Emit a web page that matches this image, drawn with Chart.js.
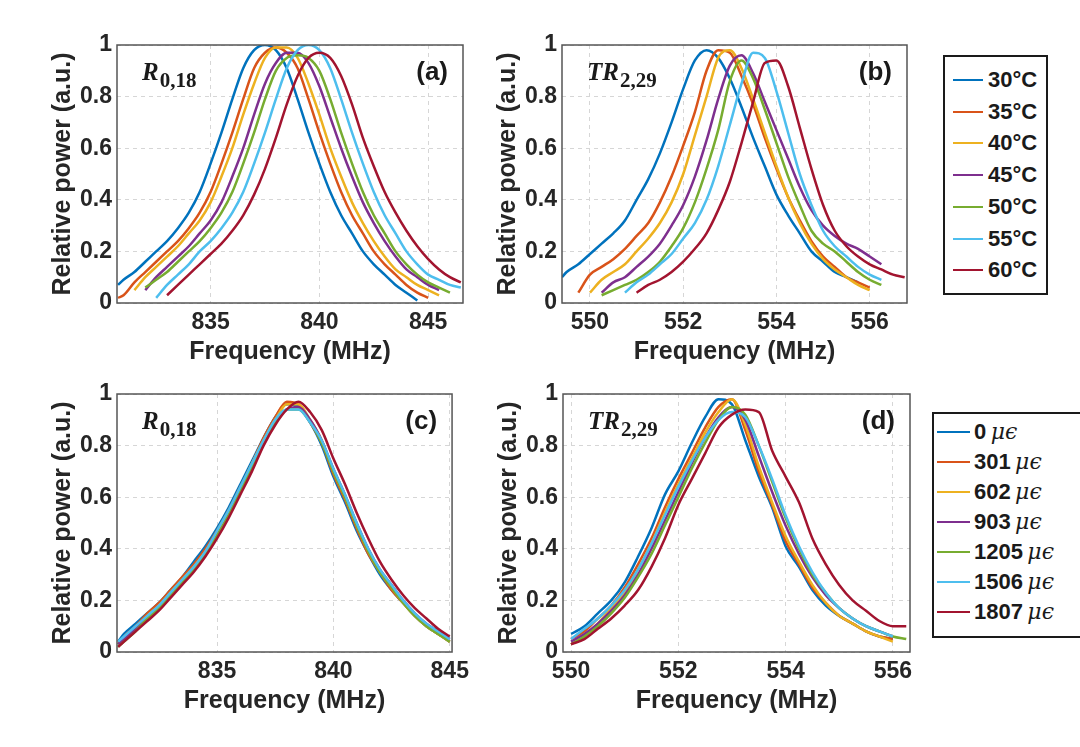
<!DOCTYPE html>
<html>
<head>
<meta charset="utf-8">
<script src="https://cdn.jsdelivr.net/npm/chart.js@4.4.1/dist/chart.umd.min.js"></script>
<style>
body { margin: 0; background: #fff; }
#page { position: relative; width: 1080px; height: 747px; overflow: hidden; background: #fff; }
canvas { position: absolute; }
.legend { position: absolute; border: 2px solid #1a1a1a; background: #fff; box-sizing: border-box; }
.row { position: absolute; height: 26px; line-height: 26px; white-space: nowrap;
       font: bold 22px 'Liberation Sans', Arial, sans-serif; color: #1a1a1a; }
.swatch { position: absolute; height: 2px; }
.mu { font: italic 22px 'DejaVu Serif', serif; }
</style>
</head>
<body>
<div id="page">
  <canvas id="pa" width="445" height="350" style="left:30px;top:25px"></canvas>
  <canvas id="pb" width="444" height="350" style="left:475px;top:25px"></canvas>
  <canvas id="pc" width="445" height="350" style="left:30px;top:374px"></canvas>
  <canvas id="pd" width="444" height="350" style="left:476px;top:374px"></canvas>
  <div id="legTemp" class="legend" style="left:943px;top:55px;width:105px;height:240px"></div>
  <div id="legStrain" class="legend" style="left:932px;top:412px;width:150px;height:226px"></div>
</div>
<script>
// labels
const tempLabels = ['30°C', '35°C', '40°C', '45°C', '50°C', '55°C', '60°C'];
const strainLabels = ['0', '301', '602', '903', '1205', '1506', '1807'];

// (a) temperature, R0,18
const freqA = [830.75, 831, 831.5, 832, 832.5, 833, 833.5, 834, 834.5, 835, 835.5, 836, 836.5, 837, 837.5, 838,
               838.5, 839, 839.5, 840, 840.5, 841, 841.5, 842, 842.5, 843, 843.5, 844, 844.5, 845, 845.5, 846, 846.5];
const a30 = [0.07, 0.09, 0.12, 0.16, 0.2, 0.24, 0.29, 0.35, 0.43, 0.54, 0.66, 0.79, 0.91, 0.98, 1.0, 0.98, 0.91,
             0.79, 0.66, 0.54, 0.43, 0.34, 0.27, 0.2, 0.15, 0.11, 0.07, 0.04, 0.01, null, null, null, null];
const a35 = [0.02, 0.03, 0.08, 0.12, 0.16, 0.2, 0.24, 0.29, 0.35, 0.43, 0.54, 0.66, 0.79, 0.91, 0.97, 0.99, 0.97,
             0.91, 0.79, 0.66, 0.54, 0.43, 0.34, 0.27, 0.2, 0.15, 0.11, 0.07, 0.04, 0.02, null, null, null];
const a40 = [null, null, 0.05, 0.1, 0.14, 0.18, 0.22, 0.27, 0.32, 0.39, 0.49, 0.6, 0.73, 0.85, 0.95, 0.99, 0.99,
             0.95, 0.85, 0.73, 0.6, 0.49, 0.39, 0.31, 0.24, 0.18, 0.13, 0.1, 0.07, 0.05, 0.03, null, null];
const a45 = [null, null, null, 0.05, 0.1, 0.14, 0.18, 0.22, 0.27, 0.32, 0.39, 0.49, 0.6, 0.73, 0.85, 0.93, 0.97,
             0.97, 0.93, 0.84, 0.72, 0.6, 0.49, 0.39, 0.31, 0.24, 0.18, 0.13, 0.1, 0.07, 0.05, null, null];
const a50 = [null, null, null, 0.06, 0.09, 0.12, 0.16, 0.2, 0.24, 0.29, 0.35, 0.43, 0.54, 0.66, 0.79, 0.9, 0.95,
             0.96, 0.95, 0.9, 0.79, 0.66, 0.54, 0.43, 0.34, 0.27, 0.2, 0.15, 0.11, 0.08, 0.06, 0.04, null];
const a55 = [null, null, null, null, 0.02, 0.07, 0.11, 0.15, 0.2, 0.24, 0.29, 0.35, 0.43, 0.54, 0.66, 0.79, 0.91,
             0.98, 1.0, 0.98, 0.91, 0.79, 0.66, 0.54, 0.43, 0.34, 0.27, 0.2, 0.15, 0.11, 0.09, 0.07, 0.06];
const a60 = [null, null, null, null, null, 0.03, 0.07, 0.11, 0.15, 0.19, 0.23, 0.28, 0.34, 0.42, 0.52, 0.64, 0.77,
             0.88, 0.95, 0.97, 0.95, 0.88, 0.77, 0.64, 0.53, 0.43, 0.35, 0.28, 0.22, 0.17, 0.13, 0.1, 0.08];

// (b) temperature, TR2,29
const freqB = [549.4, 549.5, 549.75, 550, 550.25, 550.5, 550.75, 551, 551.25, 551.5, 551.75, 552, 552.25, 552.5,
               552.75, 553, 553.25, 553.5, 553.75, 554, 554.25, 554.5, 554.75, 555, 555.25, 555.5, 555.75, 556,
               556.25, 556.5, 556.75];
const b30 = [0.1, 0.12, 0.15, 0.19, 0.23, 0.27, 0.32, 0.4, 0.48, 0.58, 0.7, 0.83, 0.94, 0.98, 0.95, 0.87, 0.76,
             0.64, 0.53, 0.42, 0.34, 0.27, 0.2, 0.16, 0.12, 0.1, 0.08, null, null, null, null];
const b35 = [null, null, 0.04, 0.11, 0.14, 0.17, 0.21, 0.26, 0.31, 0.39, 0.49, 0.61, 0.74, 0.9, 0.98, 0.97, 0.88,
             0.77, 0.64, 0.52, 0.41, 0.32, 0.24, 0.18, 0.14, 0.1, 0.08, 0.06, null, null, null];
const b40 = [null, null, null, 0.04, 0.09, 0.12, 0.15, 0.2, 0.25, 0.31, 0.39, 0.5, 0.65, 0.8, 0.95, 0.98, 0.91,
             0.79, 0.66, 0.53, 0.41, 0.31, 0.23, 0.17, 0.13, 0.1, 0.07, 0.05, null, null, null];
const b45 = [null, null, null, null, 0.04, 0.08, 0.1, 0.14, 0.18, 0.23, 0.3, 0.38, 0.49, 0.63, 0.79, 0.92, 0.96,
             0.89, 0.78, 0.67, 0.56, 0.45, 0.36, 0.3, 0.26, 0.23, 0.21, 0.18, 0.15, null, null];
const b50 = [null, null, null, null, 0.03, 0.05, 0.07, 0.09, 0.12, 0.16, 0.22, 0.29, 0.39, 0.52, 0.67, 0.86, 0.94,
             0.87, 0.75, 0.62, 0.49, 0.38, 0.28, 0.23, 0.2, 0.16, 0.12, 0.09, 0.07, null, null];
const b55 = [null, null, null, null, null, null, 0.04, 0.08, 0.11, 0.15, 0.19, 0.25, 0.31, 0.4, 0.53, 0.69, 0.85,
             0.97, 0.95, 0.82, 0.66, 0.5, 0.38, 0.28, 0.22, 0.18, 0.14, 0.11, 0.09, null, null];
const b60 = [null, null, null, null, null, null, null, 0.04, 0.07, 0.09, 0.12, 0.16, 0.21, 0.27, 0.36, 0.47, 0.62,
             0.78, 0.93, 0.94, 0.84, 0.68, 0.52, 0.38, 0.28, 0.22, 0.18, 0.15, 0.13, 0.11, 0.1];

// (c) strain, R0,18
const freqC = [830.75, 831, 831.5, 832, 832.5, 833, 833.5, 834, 834.5, 835, 835.5, 836, 836.5, 837, 837.5, 838,
               838.5, 839, 839.5, 840, 840.5, 841, 841.5, 842, 842.5, 843, 843.5, 844, 844.5, 845];
const c0 = [0.04, 0.07, 0.11, 0.15, 0.19, 0.24, 0.29, 0.35, 0.41, 0.48, 0.56, 0.65, 0.74, 0.83, 0.91, 0.96, 0.95,
            0.89, 0.8, 0.68, 0.58, 0.47, 0.38, 0.3, 0.24, 0.19, 0.14, 0.1, 0.07, 0.04];
const c301 = [0.03, 0.06, 0.1, 0.15, 0.19, 0.24, 0.29, 0.34, 0.4, 0.47, 0.55, 0.64, 0.73, 0.83, 0.91, 0.97, 0.96,
              0.89, 0.81, 0.69, 0.59, 0.48, 0.38, 0.31, 0.24, 0.19, 0.14, 0.1, 0.07, 0.04];
const c602 = [0.02, 0.05, 0.09, 0.14, 0.18, 0.23, 0.28, 0.33, 0.39, 0.46, 0.54, 0.63, 0.73, 0.82, 0.9, 0.96, 0.96,
              0.9, 0.82, 0.7, 0.6, 0.49, 0.39, 0.31, 0.25, 0.19, 0.14, 0.1, 0.07, 0.04];
const c903 = [0.03, 0.05, 0.09, 0.13, 0.17, 0.22, 0.27, 0.32, 0.38, 0.45, 0.53, 0.62, 0.71, 0.81, 0.89, 0.94, 0.95,
              0.9, 0.82, 0.71, 0.61, 0.5, 0.4, 0.32, 0.26, 0.2, 0.15, 0.11, 0.08, 0.05];
const c1205 = [0.02, 0.04, 0.08, 0.13, 0.17, 0.22, 0.27, 0.32, 0.38, 0.45, 0.53, 0.62, 0.72, 0.81, 0.89, 0.94, 0.94,
               0.89, 0.81, 0.7, 0.6, 0.49, 0.39, 0.31, 0.25, 0.19, 0.14, 0.1, 0.07, 0.04];
const c1506 = [0.04, 0.06, 0.1, 0.14, 0.18, 0.23, 0.28, 0.33, 0.39, 0.47, 0.55, 0.64, 0.73, 0.82, 0.9, 0.94, 0.94,
               0.89, 0.82, 0.71, 0.61, 0.5, 0.4, 0.32, 0.26, 0.2, 0.15, 0.11, 0.08, 0.05];
const c1807 = [0.02, 0.04, 0.08, 0.12, 0.16, 0.21, 0.26, 0.31, 0.37, 0.44, 0.52, 0.61, 0.7, 0.8, 0.88, 0.94, 0.97,
               0.93, 0.86, 0.75, 0.65, 0.54, 0.44, 0.35, 0.28, 0.22, 0.17, 0.13, 0.09, 0.06];

// (d) strain, TR2,29
const freqD = [550, 550.25, 550.5, 550.75, 551, 551.25, 551.5, 551.75, 552, 552.25, 552.5, 552.75, 553, 553.25,
               553.5, 553.75, 554, 554.25, 554.5, 554.75, 555, 555.25, 555.5, 555.75, 556, 556.25];
const d0 = [0.07, 0.1, 0.15, 0.2, 0.27, 0.37, 0.48, 0.61, 0.7, 0.81, 0.91, 0.98, 0.96, 0.82, 0.68, 0.56, 0.41,
            0.33, 0.24, 0.18, 0.14, 0.11, 0.08, 0.06, 0.05, null];
const d301 = [0.05, 0.08, 0.13, 0.18, 0.25, 0.34, 0.44, 0.56, 0.67, 0.77, 0.87, 0.95, 0.98, 0.86, 0.7, 0.57, 0.43,
              0.34, 0.25, 0.19, 0.14, 0.11, 0.08, 0.06, 0.05, null];
const d602 = [0.03, 0.06, 0.11, 0.17, 0.23, 0.32, 0.42, 0.54, 0.65, 0.75, 0.85, 0.93, 0.98, 0.88, 0.72, 0.58, 0.45,
              0.35, 0.26, 0.19, 0.14, 0.11, 0.08, 0.06, 0.04, null];
const d903 = [0.04, 0.07, 0.11, 0.16, 0.22, 0.3, 0.4, 0.51, 0.62, 0.73, 0.83, 0.91, 0.95, 0.9, 0.76, 0.62, 0.49,
              0.38, 0.29, 0.22, 0.17, 0.13, 0.1, 0.08, 0.06, null];
const d1205 = [0.03, 0.06, 0.1, 0.15, 0.21, 0.29, 0.38, 0.49, 0.6, 0.71, 0.81, 0.9, 0.95, 0.92, 0.8, 0.66, 0.52,
               0.4, 0.3, 0.23, 0.17, 0.13, 0.1, 0.08, 0.06, 0.05];
const d1506 = [0.05, 0.09, 0.13, 0.18, 0.24, 0.32, 0.42, 0.53, 0.64, 0.74, 0.83, 0.9, 0.93, 0.91, 0.8, 0.67, 0.53,
               0.41, 0.31, 0.23, 0.17, 0.13, 0.1, 0.08, 0.06, null];
const d1807 = [0.03, 0.05, 0.09, 0.13, 0.18, 0.24, 0.33, 0.44, 0.57, 0.67, 0.77, 0.87, 0.92, 0.94, 0.93, 0.78, 0.68,
               0.58, 0.44, 0.34, 0.26, 0.2, 0.16, 0.12, 0.1, 0.1];

const lineColors = ['#0072BD', '#D95319', '#EDB120', '#7E2F8E', '#77AC30', '#4DBEEE', '#A2142F'];
const inkColor = '#262626';
const sansFont = "'Liberation Sans', Arial, sans-serif";

Chart.defaults.font.family = sansFont;
Chart.defaults.color = inkColor;

// frame box + panel annotations
const panelText = {
    id: 'panelText',
    afterDraw(chart, args, opts) {
        const ctx = chart.ctx;
        const {left, top, right, bottom} = chart.chartArea;
        ctx.save();
        ctx.strokeStyle = '#555555';
        ctx.lineWidth = 1.5;
        ctx.strokeRect(left, top, right - left, bottom - top);
        ctx.fillStyle = '#1a1a1a';
        ctx.textAlign = 'left';
        ctx.textBaseline = 'alphabetic';
        ctx.font = "italic bold 25px 'Liberation Serif', serif";
        ctx.fillText(opts.main, left + 25, top + 35);
        const w = ctx.measureText(opts.main).width;
        ctx.font = "bold 21px 'Liberation Serif', serif";
        ctx.fillText(opts.sub, left + 26 + w, top + 42);
        ctx.font = 'bold 26px ' + sansFont;
        ctx.textAlign = 'right';
        ctx.textBaseline = 'middle';
        ctx.fillText(opts.tag, right - 15, top + 28);
        ctx.restore();
    }
};

function makeSets(freq, series, labels)
{
    return series.map((vals, i) => ({
        label: labels[i],
        data: freq.map((f, k) => ({ x: f, y: vals[k] })),
        borderColor: lineColors[i],
        backgroundColor: lineColors[i],
        borderWidth: 2.5,
        pointRadius: 0,
        cubicInterpolationMode: 'monotone',
        order: series.length - i
    }));
}

function drawPanel(id, freq, series, labels, xMin, xMax, step, padRight, text)
{
    const gridOpts = { color: '#d6d6d6', lineWidth: 1, drawTicks: false };
    const borderOpts = { display: false, dash: [4, 4] };
    const tickFont = { size: 23, weight: 'bold' };
    const titleFont = { size: 25, weight: 'bold' };
    new Chart(document.getElementById(id), {
        type: 'line',
        data: { datasets: makeSets(freq, series, labels) },
        options: {
            responsive: false,
            animation: false,
            devicePixelRatio: 1,
            layout: { padding: { top: 20, right: padRight, left: 0, bottom: 0 } },
            plugins: {
                legend: { display: false },
                tooltip: { enabled: false },
                panelText: text
            },
            scales: {
                x: {
                    type: 'linear',
                    min: xMin,
                    max: xMax,
                    ticks: { stepSize: step, includeBounds: false, padding: 6, font: tickFont, color: inkColor, maxRotation: 0 },
                    grid: gridOpts,
                    border: borderOpts,
                    title: { display: true, text: 'Frequency (MHz)', font: titleFont, color: inkColor, padding: { top: 0, bottom: 8 } },
                    afterFit(s) { s.height = 72; }
                },
                y: {
                    min: 0,
                    max: 1,
                    ticks: {
                        stepSize: 0.2, padding: 5, font: tickFont, color: inkColor,
                        callback: (v) => String(+v.toFixed(1))
                    },
                    grid: gridOpts,
                    border: borderOpts,
                    title: { display: true, text: 'Relative power (a.u.)', font: titleFont, color: inkColor, padding: { top: 18, bottom: 0 } },
                    afterFit(s) { s.width = 87; }
                }
            }
        },
        plugins: [panelText]
    });
}

drawPanel('pa', freqA, [a30, a35, a40, a45, a50, a55, a60], tempLabels, 830.7, 846.6, 5, 12,
    { main: 'R', sub: '0,18', tag: '(a)' });
drawPanel('pb', freqB, [b30, b35, b40, b45, b50, b55, b60], tempLabels, 549.4, 556.8, 2, 12,
    { main: 'TR', sub: '2,29', tag: '(b)' });
drawPanel('pc', freqC, [c0, c301, c602, c903, c1205, c1506, c1807], strainLabels, 830.7, 845.1, 5, 12,
    { main: 'R', sub: '0,18', tag: '(c)' });
drawPanel('pd', freqD, [d0, d301, d602, d903, d1205, d1506, d1807], strainLabels, 549.85, 556.32, 2, 10,
    { main: 'TR', sub: '2,29', tag: '(d)' });

// legends
function buildLegend(id, labels, rowTop, rowStep, lineLeft, lineWidth, textLeft, unit)
{
    const box = document.getElementById(id);
    labels.forEach((name, i) => {
        const mid = rowTop + rowStep * i;
        const sw = document.createElement('div');
        sw.className = 'swatch';
        sw.style.left = lineLeft + 'px';
        sw.style.width = lineWidth + 'px';
        sw.style.top = (mid - 1) + 'px';
        sw.style.background = lineColors[i];
        box.appendChild(sw);
        const row = document.createElement('div');
        row.className = 'row';
        row.style.left = textLeft + 'px';
        row.style.top = (mid - 13) + 'px';
        row.textContent = name;
        if (unit) {
            const u = document.createElement('span');
            u.className = 'mu';
            u.textContent = '\u2009' + unit;
            row.appendChild(u);
        }
        box.appendChild(row);
    });
}

buildLegend('legTemp', tempLabels, 23, 31.7, 8, 30, 43, null);
buildLegend('legStrain', strainLabels, 18, 30, 3, 33, 40, 'μϵ');
</script>
</body>
</html>
